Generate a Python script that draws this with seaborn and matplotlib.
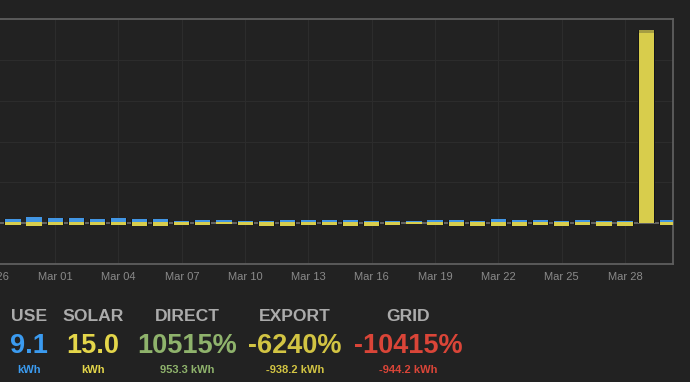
import pandas as pd
import matplotlib.pyplot as plt
import seaborn as sns

# daily energy, kWh (Feb 27 .. Mar 30)
days = pd.date_range("2021-02-27", "2021-03-30", freq="D")
grid_import = [16, 24, 18, 18, 14, 19, 14, 14, 6, 8, 9, 4, 1, 8, 8, 8, 8, 4, 6, 3, 8, 8,
               6, 13, 8, 11, 6, 8, 4, 4, 0, 9]
solar_used = [6, 6, 6, 6, 6, 6, 6, 6, 6, 6, 6, 6, 8, 6, 6, 6, 6, 6, 6, 6, 6, 6,
              6, 6, 6, 6, 6, 6, 6, 6, 933, 6]
solar_peak = [0, 0, 0, 0, 0, 0, 0, 0, 0, 0, 0, 0, 0, 0, 0, 0, 0, 0, 0, 0, 0, 0,
              0, 0, 0, 0, 0, 0, 0, 0, 15, 0]
solar_export = [-7, -12, -7, -10, -7, -7, -12, -12, -10, -7, -3, -8, -12, -12, -10, -10, -12, -12,
                -10, -5, -8, -12, -12, -12, -13, -10, -12, -8, -12, -12, 0, -7]

# summary boxes under the chart
stat_names = ["USE", "SOLAR", "DIRECT", "EXPORT", "GRID"]
stat_values = ["9.1", "15.0", "10515%", "-6240%", "-10415%"]
stat_units = ["kWh", "kWh", "953.3 kWh", "-938.2 kWh", "-944.2 kWh"]
stat_colors = ["#3b9bf0", "#e4d64a", "#8fb36c", "#d2c443", "#da4538"]
stat_x = [29, 93, 187, 295, 408]

BG = "#222222"
BLUE = "#4296e4"
YELLOW = "#d8cd4c"
PEAK = "#a59d42"
EDGE = "#141519"

sns.set_theme(style="dark", rc={"figure.facecolor": BG, "axes.facecolor": BG})
plt.rcParams["font.family"] = ["Liberation Sans", "DejaVu Sans"]

W, H = 690, 382
fig = plt.figure(figsize=(6.9, 3.82), dpi=100)
ax = fig.add_axes([-69 / W, 1 - 264 / H, 742 / W, (264 - 19.5) / H])

labels = [d.strftime("%b %d") for d in days]
top_total = [a + b + c for a, b, c in zip(grid_import, solar_used, solar_peak)]
solar_total = [a + b for a, b in zip(solar_used, solar_peak)]
full_span = [t - e for t, e in zip(top_total, solar_export)]
yellow_span = [s - e for s, e in zip(solar_total, solar_export)]
used_span = [s - e for s, e in zip(solar_used, solar_export)]

ax.axhline(0, color="#6a6a6a", lw=1.3, zorder=0.6)
# dark outline behind each bar (from export up to the top)
sns.barplot(x=labels, y=full_span, bottom=solar_export, color=EDGE, width=0.8,
            saturation=1, linewidth=0, ax=ax, zorder=2)
kw = dict(bottom=solar_export, width=0.72, saturation=1, linewidth=0, ax=ax, zorder=3)
sns.barplot(x=labels, y=full_span, color=BLUE, **kw)
sns.barplot(x=labels, y=yellow_span, color=PEAK, **kw)
sns.barplot(x=labels, y=used_span, color=YELLOW, **kw)

first = days[0]
tick_pos = list(range(-1, len(days), 3))
tick_lab = [(first + pd.Timedelta(days=p)).strftime("%b %d") for p in tick_pos]
ax.set_xticks(tick_pos)
ax.set_xticklabels(tick_lab, color="#8a8a8a", fontsize=8)
ax.set_yticks(range(-200, 1001, 200))
ax.set_yticklabels([])
ax.set_xlim(-3.88, 31.27)
ax.set_ylim(-200, 1000)
ax.tick_params(length=0, pad=6)
ax.set_axisbelow(True)
ax.grid(True, color="#2c2c2c", lw=0.8)
ax.set_xlabel("")
ax.set_ylabel("")
for side in ["top", "right", "bottom"]:
    ax.spines[side].set_visible(True)
    ax.spines[side].set_color("#5e5e5e")
    ax.spines[side].set_linewidth(1.3)
ax.spines["left"].set_visible(False)

for name, val, unit, col, x in zip(stat_names, stat_values, stat_units, stat_colors, stat_x):
    fig.text(x / W, 1 - 321 / H, name, ha="center", va="baseline", color="#ababab",
             fontsize=12.6, fontweight="bold")
    fig.text(x / W, 1 - 353 / H, val, ha="center", va="baseline", color=col,
             fontsize=19.5, fontweight="bold")
    fig.text(x / W, 1 - 373 / H, unit, ha="center", va="baseline", color=col,
             fontsize=8, fontweight="bold")

fig.savefig("out.png", dpi=100, facecolor=BG)
